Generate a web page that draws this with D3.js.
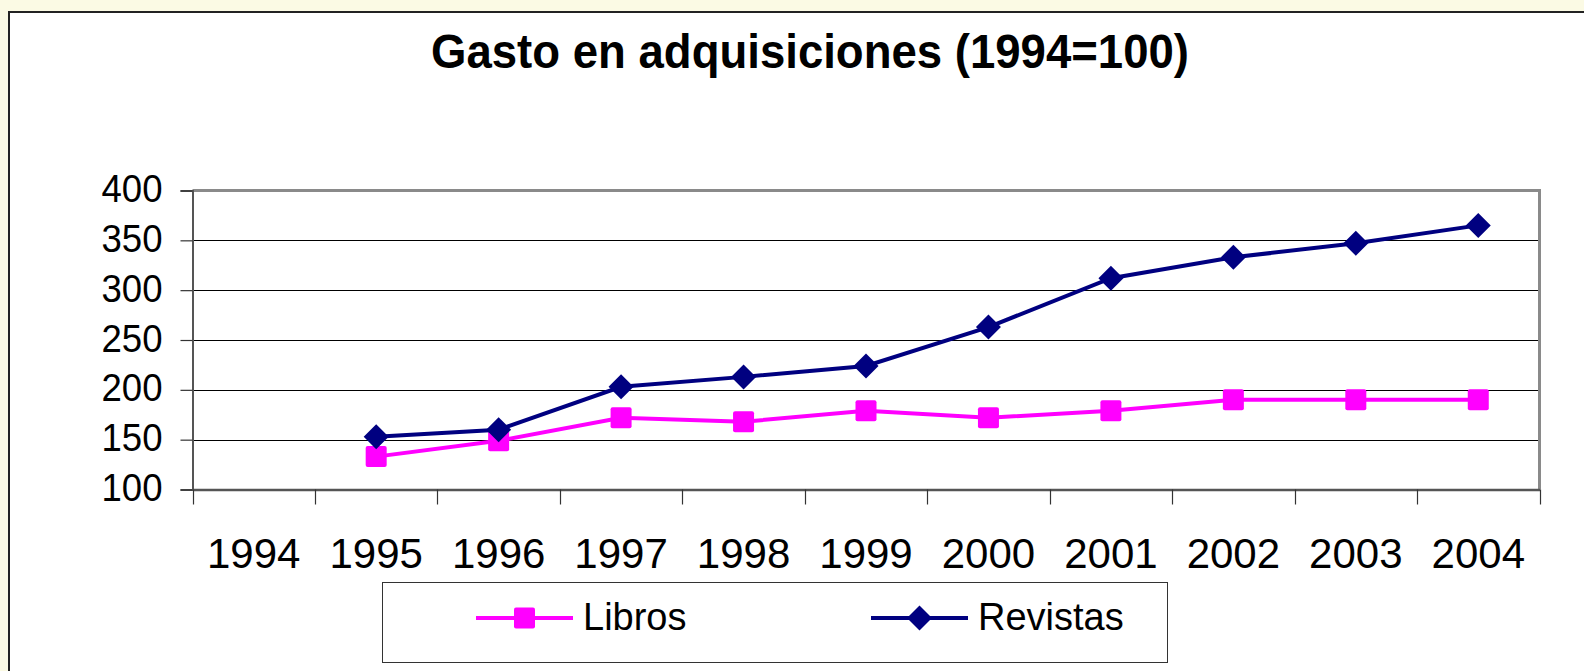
<!DOCTYPE html>
<html>
<head>
<meta charset="utf-8">
<script src="https://cdn.jsdelivr.net/npm/d3@7"></script>
<style>
  html, body { margin: 0; padding: 0; background: #FBFAE4; overflow: hidden; }
  svg { display: block; }
</style>
</head>
<body>
<svg id="chart" width="1584" height="671"></svg>
<script>
// ---- data ----
const title = "Gasto en adquisiciones (1994=100)";
const years = ["1994", "1995", "1996", "1997", "1998", "1999", "2000", "2001", "2002", "2003", "2004"];
const libros = [null, 133, 149, 172, 168, 179, 172, 179, 190, 190, 190];
const revistas = [null, 153, 160, 203, 213, 224, 263, 312, 333, 347, 365];
const yTicks = [100, 150, 200, 250, 300, 350, 400];
const seriesNames = ["Libros", "Revistas"];

// ---- layout ----
const W = 1584, H = 671;
const plot = { left: 192.5, right: 1539.5, top: 190.5, bottom: 489.5 };

const svg = d3.select("#chart");

// chart area (white, with dark border on left/top)
svg.append("rect")
  .attr("x", 9).attr("y", 12)
  .attr("width", W + 20).attr("height", H + 20)
  .attr("fill", "#ffffff")
  .attr("stroke", "#222").attr("stroke-width", 2);

// title
svg.append("text")
  .attr("x", 431).attr("y", 68)
  .attr("font-family", "'Liberation Sans', Arial, sans-serif")
  .attr("font-weight", "bold")
  .attr("font-size", 48)
  .attr("textLength", 758)
  .attr("lengthAdjust", "spacingAndGlyphs")
  .attr("fill", "#000")
  .text(title);

const x = d3.scaleBand().domain(years).range([plot.left, plot.right]).padding(0);
const y = d3.scaleLinear().domain([100, 400]).range([plot.bottom, plot.top]);
const cx = d => x(d) + x.bandwidth() / 2;

// gridlines
svg.append("g")
  .selectAll("line")
  .data(yTicks.filter(t => t > 100 && t < 400))
  .join("line")
  .attr("x1", plot.left).attr("x2", plot.right)
  .attr("y1", d => Math.round(y(d)) + 0.5).attr("y2", d => Math.round(y(d)) + 0.5)
  .attr("stroke", "#000").attr("stroke-width", 1.2);

// plot border top/right (gray)
svg.append("path")
  .attr("d", `M${plot.left},${plot.top}H${plot.right}V${plot.bottom}`)
  .attr("fill", "none").attr("stroke", "#8a8a8a").attr("stroke-width", 3);

// y axis
const yAxis = d3.axisLeft(y).tickValues(yTicks).tickSize(12).tickPadding(0).tickFormat(d3.format("d"));
const gy = svg.append("g").attr("transform", `translate(${plot.left},0)`).call(yAxis);
gy.select(".domain").attr("stroke", "#555").attr("stroke-width", 2);
gy.selectAll(".tick line").attr("stroke", "#333").attr("stroke-width", 1.2);
gy.selectAll(".tick text")
  .attr("x", -30).attr("dy", 11)
  .attr("font-family", "'Liberation Sans', Arial, sans-serif")
  .attr("font-size", 39)
  .attr("textLength", 61)
  .attr("lengthAdjust", "spacingAndGlyphs")
  .attr("fill", "#000");

// x axis (labels via band scale; ticks at band boundaries)
const xAxis = d3.axisBottom(x).tickSize(0).tickPadding(0);
const gx = svg.append("g").attr("transform", `translate(0,${plot.bottom})`).call(xAxis);
gx.select(".domain").attr("stroke", "#555").attr("stroke-width", 2.5);
gx.selectAll(".tick text")
  .attr("dy", 78).attr("y", 0)
  .attr("font-family", "'Liberation Sans', Arial, sans-serif")
  .attr("font-size", 42)
  .attr("fill", "#000");
const boundaries = years.map(d => x(d)).concat([x.range()[1]]);
gx.append("g").selectAll("line")
  .data(boundaries)
  .join("line")
  .attr("x1", d => Math.round(d) + 0.5).attr("x2", d => Math.round(d) + 0.5)
  .attr("y1", 0).attr("y2", 15)
  .attr("stroke", "#333").attr("stroke-width", 1.2);

// series
const colors = { Libros: "#FF00FF", Revistas: "#000080" };
const data = { Libros: libros, Revistas: revistas };

const line = d3.line()
  .defined(d => d.v != null)
  .x(d => cx(d.year)).y(d => y(d.v));

const sqSize = 21;
const diamondR = 12.5;
function drawMarker(g, name, px, py) {
  if (name === "Libros") {
    g.append("rect")
      .attr("x", px - sqSize / 2).attr("y", py - sqSize / 2)
      .attr("width", sqSize).attr("height", sqSize)
      .attr("rx", 2)
      .attr("fill", colors[name]);
  } else {
    g.append("path")
      .attr("d", `M${px},${py - diamondR}L${px + diamondR},${py}L${px},${py + diamondR}L${px - diamondR},${py}Z`)
      .attr("fill", colors[name]);
  }
}

seriesNames.forEach(name => {
  const pts = years.map((yr, i) => ({ year: yr, v: data[name][i] }));
  const g = svg.append("g");
  g.append("path")
    .datum(pts)
    .attr("d", line)
    .attr("fill", "none")
    .attr("stroke", colors[name])
    .attr("stroke-width", 4);
  pts.filter(p => p.v != null).forEach(p => drawMarker(g, name, cx(p.year), y(p.v)));
});

// legend
const lg = svg.append("g");
lg.append("rect")
  .attr("x", 382.5).attr("y", 582.5)
  .attr("width", 785).attr("height", 80)
  .attr("fill", "#fff").attr("stroke", "#333").attr("stroke-width", 1);
const legendItems = [
  { name: "Libros", x1: 476, x2: 573, tx: 583 },
  { name: "Revistas", x1: 871, x2: 968, tx: 978 }
];
legendItems.forEach(it => {
  const ly = 618;
  lg.append("line")
    .attr("x1", it.x1).attr("x2", it.x2).attr("y1", ly).attr("y2", ly)
    .attr("stroke", colors[it.name]).attr("stroke-width", 4);
  drawMarker(lg, it.name, (it.x1 + it.x2) / 2, ly);
  lg.append("text")
    .attr("x", it.tx).attr("y", 630)
    .attr("font-family", "'Liberation Sans', Arial, sans-serif")
    .attr("font-size", 38)
    .attr("fill", "#000")
    .text(it.name);
});
</script>
</body>
</html>
